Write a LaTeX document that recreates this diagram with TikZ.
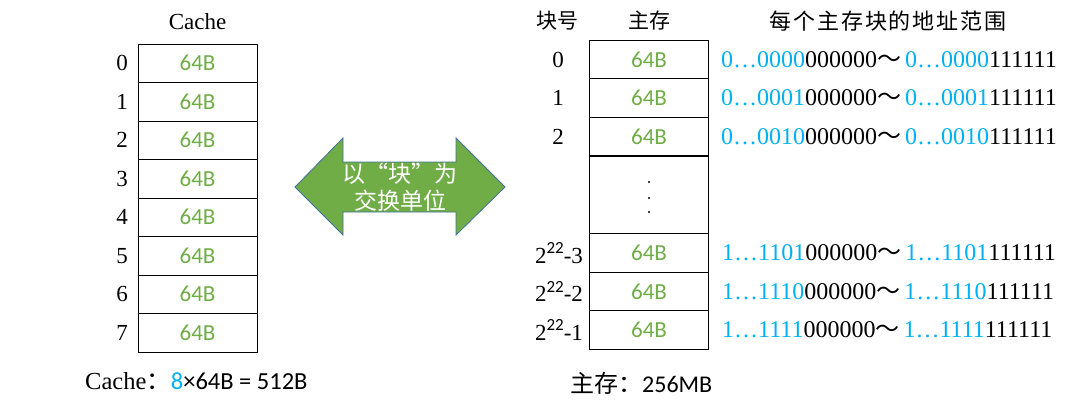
\documentclass[tikz,border=0pt]{standalone}
\usepackage{fontspec}
\setmainfont{Liberation Serif}
\newfontfamily\cjk{Noto Sans CJK SC}
\newfontfamily\calfont{Carlito}
\definecolor{gB}{HTML}{70AD47}
\definecolor{bl}{HTML}{00B0F0}
\definecolor{arrowedge}{HTML}{41719C}
\newcommand\addrline[1]{\textcolor{bl}{#1}000000{\cjk ～}\,\textcolor{bl}{#1}111111}
\newcommand\blk[1]{2\raisebox{0.42em}{\calfont\fontsize{17}{17}\selectfont 22}-#1}
\begin{document}
\begin{tikzpicture}[x=1pt,y=-1pt,
  cell/.style={draw, line width=0.9pt, minimum width=119pt, minimum height=38.5pt, inner sep=0pt,
    font=\calfont\fontsize{23}{23}\selectfont, text=gB},
  gapcell/.style={draw, line width=0.9pt, minimum width=119pt, minimum height=77pt, inner sep=0pt},
  lbl/.style={font=\fontsize{23}{23}\selectfont, inner sep=0pt},
  hdr/.style={font=\cjk\fontsize{21}{21}\selectfont, inner sep=0pt},
  addr/.style={font=\fontsize{24}{24}\selectfont, anchor=west, inner sep=0pt},
  dotmark/.style={fill=black, circle, inner sep=0pt, minimum size=2.2pt}]
\useasboundingbox (0,0) rectangle (1077,408);
% Cache
\node[font=\fontsize{23}{23}\selectfont, inner sep=0pt] (ctitle) at (197.5,22) {Cache};
\foreach \i in {0,...,7}{
  \node[cell] (c\i) at (197.5,{63.25+38.5*\i}) {64B};
  \node[lbl] (cl\i) at (122,{63.25+38.5*\i}) {\i};
}
\node[anchor=west, inner sep=0pt, font=\fontsize{24.5}{24.5}\selectfont] (csum) at (85,381)
  {Cache{\cjk ：}\textcolor{bl}{\calfont 8}{\calfont ×64B = 512B}};
% Arrow
\draw[fill=gB, draw=arrowedge, line width=0.8pt]
  (295,187) -- (343,138) -- (343,162) -- (456,162) -- (456,138) -- (505,187)
  -- (456,235) -- (456,212) -- (343,212) -- (343,235) -- cycle;
\node[align=center, text=white, font=\cjk\fontsize{23}{27}\selectfont, inner sep=0pt] (swap) at (400,187)
  {以“块”为\\交换单位};
% Main memory
\node[hdr] (hnum) at (557,21) {块号};
\node[hdr] (hmem) at (649,21) {主存};
\node[hdr, font=\cjk\fontsize{22}{22}\selectfont, text width=237pt, align=justify] (haddr) at (888,21)
  {每\hfill 个\hfill 主\hfill 存\hfill 块\hfill 的\hfill 地\hfill 址\hfill 范\hfill 围};
\node[cell] (m0) at (649,59.5) {64B};
\node[cell] (m1) at (649,98) {64B};
\node[cell] (m2) at (649,136.5) {64B};
\node[gapcell] (mg) at (649,194.5) {};
\node[cell] (m3) at (649,253) {64B};
\node[cell] (m4) at (649,291.5) {64B};
\node[cell] (m5) at (649,330) {64B};
\node[dotmark] (d1) at (649,182) {};
\node[dotmark] (d2) at (649,198) {};
\node[dotmark] (d3) at (649,212) {};
\node[lbl] (ml0) at (558,59.5) {0};
\node[lbl] (ml1) at (558,98) {1};
\node[lbl] (ml2) at (558,136.5) {2};
\node[lbl] (ml3) at (559,253) {\blk{3}};
\node[lbl] (ml4) at (559,291.5) {\blk{2}};
\node[lbl] (ml5) at (559,330) {\blk{1}};
\node[addr] (a0) at (721,59.5) {\addrline{0…0000}};
\node[addr] (a1) at (721,98) {\addrline{0…0001}};
\node[addr] (a2) at (721,136.5) {\addrline{0…0010}};
\node[addr] (a3) at (722,253) {\addrline{1…1101}};
\node[addr] (a4) at (722,291.5) {\addrline{1…1110}};
\node[addr] (a5) at (722,330) {\addrline{1…1111}};
\node[anchor=west, inner sep=0pt, font=\fontsize{24}{24}\selectfont] (msum) at (570,383)
  {{\cjk 主存：}{\calfont 256MB}};
\end{tikzpicture}
\end{document}
